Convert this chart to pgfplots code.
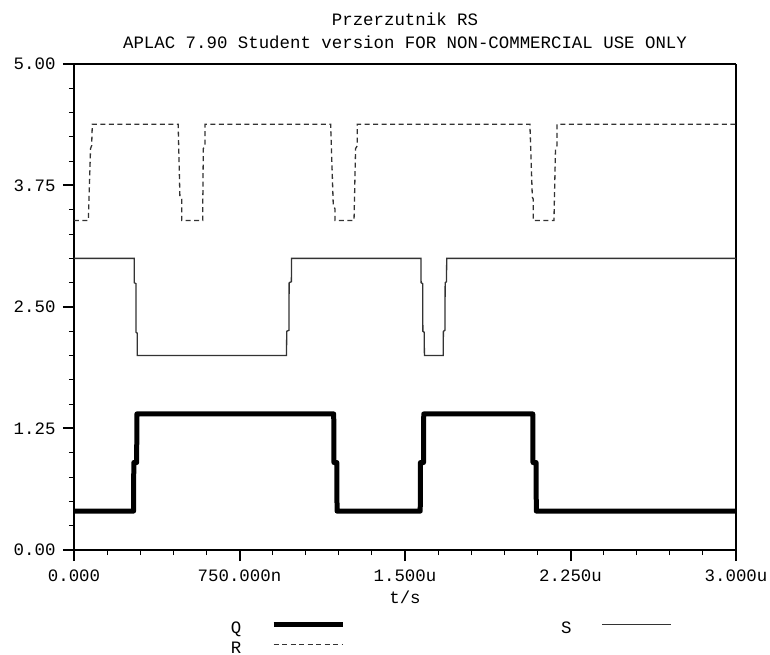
\documentclass[border=0pt]{standalone}
\usepackage{fontspec}
\setmainfont{Liberation Mono}
\usepackage{pgfplots}
\pgfplotsset{compat=1.18}

\newcommand{\aplacfont}{\fontsize{17.4}{19}\selectfont}

\begin{document}
\begin{tikzpicture}[font=\aplacfont]
% page = 770 x 655 px, 1pt = 1px, axis box lower-left at (0,0)
\path[use as bounding box] (-74pt,-105pt) rectangle (696pt,550pt);

\begin{axis}[
  scale only axis,
  width=662pt,
  height=486pt,
  at={(0pt,0pt)},
  anchor=south west,
  xmin=0, xmax=3,
  ymin=0, ymax=5,
  xtick={0,0.75,1.5,2.25,3},
  xticklabels={0.000,750.000n,1.500u,2.250u,3.000u},
  ytick={0,1.25,2.5,3.75,5},
  yticklabels={0.00,1.25,2.50,3.75,5.00},
  minor x tick num=4,
  minor y tick num=4,
  tick pos=left,
  tick align=outside,
  major tick length=11pt,
  minor tick length=5pt,
  major tick style={line width=2pt, black},
  minor tick style={line width=1pt, black},
  separate axis lines,
  axis line style={line width=2.4pt, black},
  every outer x axis line/.append style={line width=2.4pt},
  every outer y axis line/.append style={line width=2.4pt},
  tick label style={font=\aplacfont},
  xticklabel style={yshift=-5pt},
  yticklabel style={xshift=-4pt},
  xlabel={t/s},
  xlabel style={at={(axis description cs:0.5,0)}, anchor=center, yshift=-47pt, font=\aplacfont},
  legend columns=2,
  legend plot pos=right,
  legend style={draw=none, fill=none, font=\aplacfont,
    at={(axis description cs:0.232,-0.144)}, anchor=north west,
    nodes={inner sep=0pt, text height=10pt, text depth=1pt},
    row sep=9pt,
    /tikz/every odd column/.append style={column sep=30pt},
    /tikz/every even column/.append style={column sep=216pt}},
  legend image code/.code={\draw[#1] (0pt,4pt) -- (69pt,4pt);},
  clip=false,
]

% Q
\addplot[black, line width=5pt, line join=round] coordinates {
(0,0.4) (0.270,0.4) (0.271,0.9) (0.284,0.9) (0.285,1.4)
(1.177,1.4) (1.178,0.9) (1.191,0.9) (1.192,0.4)
(1.569,0.4) (1.570,0.9) (1.584,0.9) (1.585,1.4)
(2.079,1.4) (2.080,0.9) (2.094,0.9) (2.095,0.4) (3,0.4)
};
\addlegendentry{Q}

% S
\addplot[black!80, line width=1.3pt] coordinates {
(0,3.0) (0.273,3.0) (0.273,2.75) (0.281,2.74) (0.281,2.24) (0.287,2.23) (0.287,2.0)
(0.963,2.0) (0.964,2.25) (0.974,2.26) (0.975,2.75) (0.985,2.76) (0.986,3.0)
(1.572,3.0) (1.573,2.75) (1.580,2.74) (1.581,2.25) (1.587,2.24) (1.588,2.0)
(1.673,2.0) (1.674,2.25) (1.681,2.26) (1.682,2.75) (1.688,2.76) (1.689,3.0) (3,3.0)
};
\addlegendentry{S}

% R
\addplot[black!80, line width=1.3pt, dash pattern=on 5pt off 3.5pt] coordinates {
(0,3.39) (0.065,3.39) (0.075,4.13) (0.080,4.16) (0.083,4.38)
(0.472,4.38) (0.480,3.63) (0.488,3.61) (0.488,3.39)
(0.583,3.39) (0.586,4.13) (0.594,4.16) (0.594,4.38)
(1.163,4.38) (1.175,3.54) (1.183,3.51) (1.183,3.39)
(1.269,3.39) (1.276,4.13) (1.284,4.16) (1.284,4.38)
(2.066,4.38) (2.077,3.63) (2.081,3.61) (2.081,3.39)
(2.175,3.39) (2.182,4.13) (2.189,4.16) (2.189,4.38) (3,4.38)
};
\addlegendentry{R}
\end{axis}

\node at (331pt,531pt) {Przerzutnik RS};
\node at (331pt,508pt) {APLAC 7.90 Student version FOR NON-COMMERCIAL USE ONLY};
\end{tikzpicture}
\end{document}
